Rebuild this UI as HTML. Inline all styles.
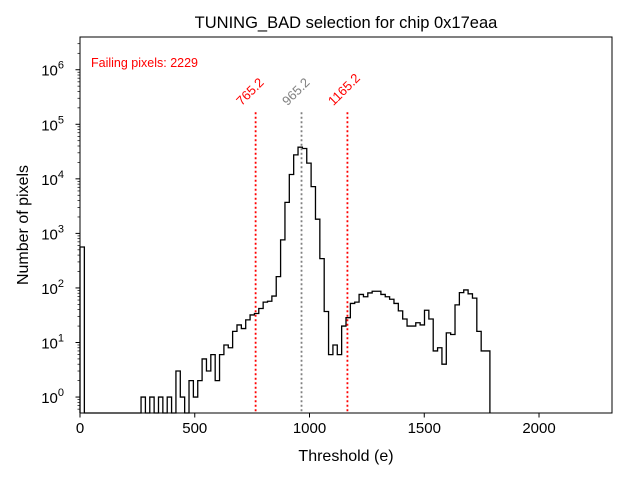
<!DOCTYPE html>
<html><head><meta charset="utf-8"><style>
body{margin:0;background:#fff;}
svg{font-family:"Liberation Sans","DejaVu Sans",sans-serif;}
</style></head><body>
<svg id="chart" width="640" height="480" viewBox="0 0 640 480" xmlns="http://www.w3.org/2000/svg">
<rect x="0" y="0" width="640" height="480" fill="#fff"/>
<text x="346" y="28" font-size="16.5" text-anchor="middle">TUNING_BAD selection for chip 0x17eaa</text>
<g id="plot"></g>
<text x="346" y="461" font-size="16" text-anchor="middle">Threshold (e)</text>
<text x="0" y="0" font-size="16" text-anchor="middle" transform="translate(28,225) rotate(-90)">Number of pixels</text>
<text x="91" y="67" font-size="12.5" fill="red">Failing pixels: 2229</text>
</svg>
<script>
const binWidth = 19;
const counts = [563,0,0,0,0,0,0,0,0,0,0,0,0,0,
1,0,1,0,1,0,1,0,3,1,0,2,1,2,5,3,6,2,6,9,8,16,21,18,26,32,
34,42,55,57,71,161,760,3700,12000,27500,38000,36000,19400,7200,1820,345,
37,6,9,6,20,28.5,52,55,76,69,81,87,87,76,69,62,52,38,27,20,20,23,21,39,27,
7,8,4,15,14,49,82,92,78,65,16,7,7];
const xTicks = [0,500,1000,1500,2000];
const yTickExps = [0,1,2,3,4,5,6];
const cutLines = [765.2, 965.2, 1165.2];
const cutColors = ["red","gray","red"];

const L=80,R=612,T=37,B=413;
const xMax=2318, yMinLog=Math.log10(0.51), yMaxLog=6.6;
const NS="http://www.w3.org/2000/svg";
function xs(v){return L+(v/xMax)*(R-L);}
function ys(v){return B-(Math.log10(v)-yMinLog)/(yMaxLog-yMinLog)*(B-T);}
const g=document.getElementById('plot');
function mk(tag,attrs){const e=document.createElementNS(NS,tag);for(const k in attrs)e.setAttribute(k,attrs[k]);g.appendChild(e);return e;}

let d="M"+xs(0)+","+B;
for(let i=0;i<counts.length;i++){
  const yv=counts[i]>0?ys(counts[i]):B;
  d+=" L"+xs(i*binWidth)+","+yv+" L"+xs((i+1)*binWidth)+","+yv;
}
d+=" L"+xs(counts.length*binWidth)+","+B;
const hist=mk('path',{d:d,fill:"none",stroke:"#000","stroke-width":1.3});



const lblNames=['lower-cut-label','mean-label','upper-cut-label'];
cutLines.forEach((v,i)=>{
  const ln=mk('line',{x1:xs(v),x2:xs(v),y1:ys(1e5)-12,y2:B,stroke:cutColors[i],"stroke-width":1.8,"stroke-dasharray":"2,2.5"});
  
  
  const t=mk('text',{x:0,y:0,"font-size":13,fill:cutColors[i],"text-anchor":"start",transform:"translate("+(xs(v)-14)+","+(ys(1e5)-18)+") rotate(-45)"});
  t.textContent=v.toFixed(1);
  
  
});

const fr=mk('rect',{x:L,y:T,width:R-L,height:B-T,fill:"none",stroke:"#000","stroke-width":1});



xTicks.forEach(v=>{
  const tk=mk('line',{x1:xs(v),x2:xs(v),y1:B,y2:B+4.5,stroke:"#000","stroke-width":1});
  
  
  const t=mk('text',{x:xs(v),y:B+20,"font-size":15,"text-anchor":"middle"});
  t.textContent=v;
  
  
});
for(let e=-1;e<=6;e++){
  for(let m=1;m<10;m++){
    const v=m*Math.pow(10,e);
    const lv=Math.log10(v);
    if(lv<yMinLog||lv>yMaxLog)continue;
    const y=ys(v);
    const len=m===1?4.5:2.5;
    const tk=mk('line',{x1:L-len,x2:L,y1:y,y2:y,stroke:"#000","stroke-width":m===1?1:0.7});
    
    
  }
}
yTickExps.forEach(e=>{
  const y=ys(Math.pow(10,e));
  const t=mk('text',{x:L-16,y:y+6,"font-size":15,"text-anchor":"end"});
  
  
  const a=document.createElementNS(NS,'tspan');a.textContent="10";t.appendChild(a);
  const b=document.createElementNS(NS,'tspan');b.setAttribute('dy','-7');b.setAttribute('font-size','11');b.textContent=e;t.appendChild(b);
});
</script>
</body></html>
